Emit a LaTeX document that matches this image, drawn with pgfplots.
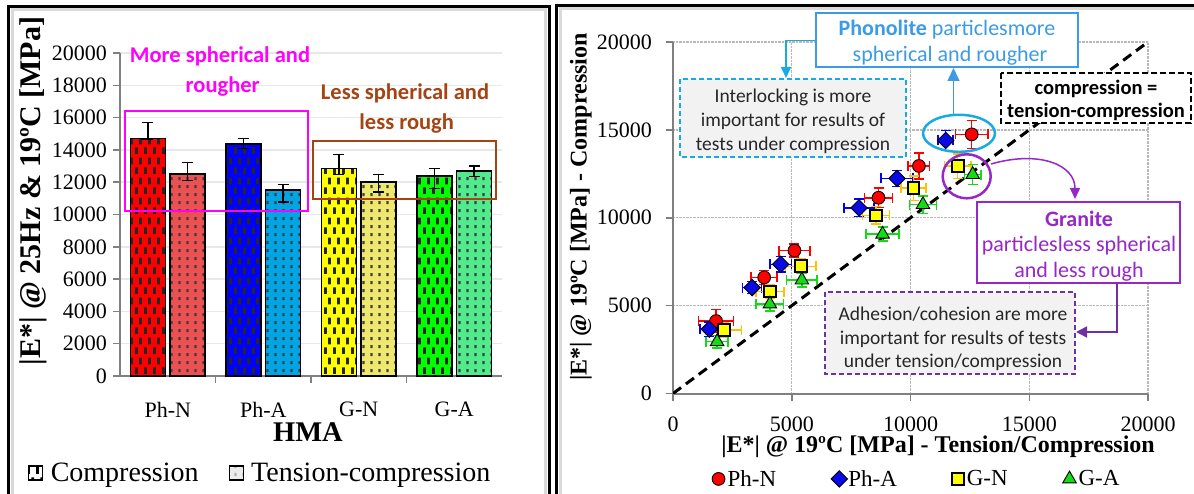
\documentclass[border=0pt]{standalone}
\usepackage{pgfplots}
\pgfplotsset{compat=1.18}
\usepackage{fontspec}
\setmainfont{Liberation Serif}
\newfontfamily\calib{Carlito}
\usetikzlibrary{patterns,arrows.meta}

\definecolor{phn}{RGB}{255,0,0}
\definecolor{phnt}{RGB}{236,80,80}
\definecolor{pha}{RGB}{0,0,255}
\definecolor{phat}{RGB}{0,165,230}
\definecolor{gn}{RGB}{255,255,0}
\definecolor{gnt}{RGB}{238,232,110}
\definecolor{ga}{RGB}{0,255,0}
\definecolor{gat}{RGB}{80,235,140}
\definecolor{brownT}{RGB}{165,68,18}
\definecolor{magT}{RGB}{255,0,255}
\definecolor{phblue}{RGB}{60,155,230}
\definecolor{cyanA}{RGB}{25,170,225}
\definecolor{purp}{RGB}{150,40,200}
\definecolor{purpD}{RGB}{112,48,160}
\definecolor{boxgray}{RGB}{242,242,242}
\definecolor{errorange}{RGB}{255,192,0}
\definecolor{mkgreen}{RGB}{20,220,20}
\definecolor{mkblue}{RGB}{10,10,230}

\pgfdeclarepatternformonly{cdash}{\pgfpointorigin}{\pgfpoint{9bp}{20bp}}{\pgfpoint{9bp}{20bp}}{%
  \pgfpathrectangle{\pgfpoint{0bp}{0bp}}{\pgfpoint{3bp}{7bp}}%
  \pgfpathrectangle{\pgfpoint{4.5bp}{10bp}}{\pgfpoint{3bp}{7bp}}%
  \pgfusepath{fill}}
\pgfdeclarepatternformonly{tdash}{\pgfpointorigin}{\pgfpoint{8bp}{8bp}}{\pgfpoint{8bp}{8bp}}{%
  \pgfpathrectangle{\pgfpoint{2.5bp}{2bp}}{\pgfpoint{2.5bp}{3.5bp}}%
  \pgfusepath{fill}}

\newcommand{\mybar}[7]{%
\addplot[forget plot, ybar, bar width=0.366, bar shift=0, fill=#1, draw=black, line width=1.6bp,
  postaction={pattern=#2, pattern color=#7},
  error bars/.cd, y dir=both, y explicit,
  error bar style={line width=1.5bp, black},
  error mark options={rotate=90, mark size=5.5bp, line width=1.5bp, black}]
  coordinates {(#3,#4) += (0,#5) -= (0,#6)};}

\tikzset{
  ann/.style={anchor=base, font=\calib\fontsize{19.5bp}{22bp}\selectfont},
  annB/.style={anchor=base, font=\calib\fontsize{22bp}{25bp}\selectfont},
}

\begin{document}
\begin{tikzpicture}
\begin{scope}[x=1bp,y=1bp]
\useasboundingbox (0,0) rectangle (1194,-494);
\fill[white] (0,0) rectangle (1194,-494);
\draw[gray!30, line width=3bp] (12,-10) rectangle (545,-497);
\draw[black, line width=3bp] (8.5,-6.5) rectangle (549,-500);
\draw[gray!30, line width=3bp] (560,-9) rectangle (1197,-497);
\draw[black, line width=3bp] (556.5,-5.5) rectangle (1200,-500);
\end{scope}

% ---------------- left: bar chart ----------------
\begin{axis}[
  at={(120bp,-376bp)}, anchor=south west, scale only axis,
  width=382bp, height=323bp,
  xmin=-0.5, xmax=3.5, ymin=0, ymax=20000,
  scaled ticks=false,
  axis x line*=bottom, axis y line*=left,
  axis line style={draw=gray, line width=2bp, -},
  xtick={0,1,2,3}, xticklabels={Ph-N,Ph-A,G-N,G-A},
  x tick style={draw=none},
  extra x ticks={0.5,1.5,2.5}, extra x tick labels={},
  extra x tick style={x tick style={draw=gray, line width=1.5bp}},
  ytick={0,2000,...,20000},
  yticklabels={0,2000,4000,6000,8000,10000,12000,14000,16000,18000,20000},
  y tick style={draw=gray, line width=1.5bp},
  major tick length=7bp, tick align=outside,
  ymajorgrids, y grid style={gray!18, line width=1.5bp},
  yticklabel style={anchor=east, inner sep=0pt, xshift=-6bp},
  xticklabel style={anchor=north, inner sep=0pt, yshift=-19bp},
  tick label style={font=\rmfamily\fontsize{22bp}{24bp}\selectfont},
  xlabel={\bfseries HMA},
  ylabel={\bfseries |E*| @ 25Hz \& 19ºC [MPa]},
  every axis x label/.style={at={(axis description cs:0.492,-0.173)}, anchor=center, font=\fontsize{28.5bp}{30bp}\selectfont},
  every axis y label/.style={at={(axis description cs:-0.2277,0.5728)}, rotate=90, anchor=center, font=\fontsize{30bp}{32bp}\selectfont},
  legend style={at={(axis description cs:-0.241,-0.300)}, anchor=west, draw=none, fill=none,
    legend columns=2, font=\fontsize{28bp}{30bp}\selectfont, inner sep=0pt,
    nodes={inner sep=0pt},
    /tikz/every even column/.append style={column sep=30bp}},
]
\mybar{phn}{cdash}{-0.208}{14700}{1000}{60}{black!85}
\mybar{phnt}{tdash}{0.208}{12490}{740}{370}{black!75}
\mybar{pha}{cdash}{0.792}{14350}{350}{250}{black!85}
\mybar{phat}{tdash}{1.208}{11500}{370}{720}{black!75}
\mybar{gn}{cdash}{1.792}{12860}{870}{370}{black!85}
\mybar{gnt}{tdash}{2.208}{12000}{490}{620}{black!75}
\mybar{ga}{cdash}{2.792}{12380}{480}{760}{black!85}
\mybar{gat}{tdash}{3.208}{12710}{290}{370}{black!75}
\addlegendimage{legend image code/.code={\draw[black, line width=1.3bp, fill=white, postaction={pattern=cdash, pattern color=black}] (0bp,-7bp) rectangle (14bp,7bp); \path[draw=none, fill=none] (0bp,0bp) -- (22bp,0bp);}}
\addlegendentry{Compression}
\addlegendimage{legend image code/.code={\draw[black, line width=1.3bp, fill=gray!15, postaction={pattern=tdash, pattern color=gray!60}] (0bp,-7bp) rectangle (14bp,7bp); \path[draw=none, fill=none] (0bp,0bp) -- (22bp,0bp);}}
\addlegendentry{Tension-compression}
\end{axis}

% ---------------- right: scatter ----------------
\begin{axis}[
  at={(673bp,-393.5bp)}, anchor=south west, scale only axis,
  width=475bp, height=351.5bp,
  xmin=0, xmax=20000, ymin=0, ymax=20000,
  scaled ticks=false,
  axis x line*=bottom, axis y line*=left,
  axis line style={draw=gray, line width=2bp, -},
  xtick={0,5000,...,20000}, ytick={0,5000,...,20000},
  xticklabels={0,5000,10000,15000,20000},
  yticklabels={0,5000,10000,15000,20000},
  tick style={draw=gray, line width=1.5bp},
  major tick length=7bp, tick align=outside,
  grid=major, grid style={densely dotted, gray!55, line width=1.3bp},
  yticklabel style={anchor=east, inner sep=0pt, xshift=-14bp},
  xticklabel style={anchor=north, inner sep=0pt, yshift=-16bp},
  tick label style={font=\rmfamily\fontsize{22bp}{24bp}\selectfont},
  xlabel={\bfseries |E*| @ 19ºC [MPa] - Tension/Compression},
  ylabel={\bfseries |E*| @ 19ºC [MPa] - Compression},
  every axis x label/.style={at={(axis description cs:0.558,-0.152)}, anchor=center, font=\fontsize{24bp}{26bp}\selectfont},
  every axis y label/.style={at={(axis description cs:-0.1937,0.5306)}, rotate=90, anchor=center, font=\fontsize{24bp}{26bp}\selectfont},
  legend image code/.code={\draw[#1] plot coordinates {(6bp,0bp)}; \path[draw=none, fill=none] (0bp,0bp) -- (15bp,0bp);},
  legend style={at={(axis description cs:0.082,-0.243)}, anchor=west, draw=none, fill=none,
    legend columns=4, font=\fontsize{23bp}{25bp}\selectfont, inner sep=0pt,
    nodes={inner sep=0pt},
    /tikz/every even column/.append style={column sep=55bp}},
]
\addplot[forget plot, black, line width=3bp, dash pattern=on 10bp off 6bp] coordinates {(0,0) (20000,20000)};

\addplot[only marks, mark=*, mark size=6.4bp, mark options={fill=phn, draw=black, line width=0.9bp},
  error bars/.cd, x dir=both, x explicit, y dir=both, y explicit,
  error bar style={phn, line width=1.5bp},
  error mark options={rotate=90, phn, mark size=5bp, line width=1.5bp}]
coordinates {
(12577,14744) +- (680,800)
(10354,12948) +- (450,750)
(8654,11138) +- (590,550)
(5113,8134) +- (660,370)
(3839,6604) +- (545,400)
(1813,4123) +- (740,650)
};
\addlegendentry{Ph-N}

\addplot[only marks, mark=square*, mark size=5.8bp, mark options={rotate=45, fill=mkblue, draw=black, line width=0.9bp},
  error bars/.cd, x dir=both, x explicit, y dir=both, y explicit,
  error bar style={pha, line width=1.5bp},
  error mark options={rotate=90, pha, mark size=5bp, line width=1.5bp}]
coordinates {
(11482,14400) +- (315,570)
(9433,12239) +- (670,450)
(7833,10560) +- (640,500)
(4533,7351) +- (450,450)
(3329,6026) +- (400,350)
(1530,3657) +- (400,400)
};
\addlegendentry{Ph-A}

\addplot[only marks, mark=square*, mark size=5.8bp, mark options={fill=gn, draw=black, line width=2bp},
  error bars/.cd, x dir=both, x explicit, y dir=both, y explicit,
  error bar style={errorange, line width=1.5bp},
  error mark options={rotate=90, errorange, mark size=5bp, line width=1.5bp}]
coordinates {
(11987,12933) +- (560,700)
(10127,11679) +- (530,700)
(8555,10131) +- (570,500)
(5382,7239) +- (640,400)
(4079,5802) +- (590,400)
(2139,3601) +- (750,400)
};
\addlegendentry{G-N}

\addplot[only marks, mark=triangle*, mark size=7.8bp, mark options={fill=mkgreen, draw=black, line width=0.9bp},
  error bars/.cd, x dir=both, x explicit, y dir=both, y explicit,
  error bar style={mkgreen, line width=1.5bp},
  error mark options={rotate=90, mkgreen, mark size=5bp, line width=1.5bp}]
coordinates {
(12619,12457) +- (350,570)
(10524,10746) +- (570,500)
(8824,9067) +- (700,400)
(5425,6455) +- (640,400)
(4079,5093) +- (575,400)
(1855,2948) +- (460,350)
};
\addlegendentry{G-A}
\end{axis}

% ---------------- annotations ----------------
\begin{scope}[x=1bp,y=1bp]
% left panel
\draw[magT, line width=2bp] (125,-110.7) rectangle (308,-210.7);
\draw[brownT, line width=2bp] (313,-140.7) rectangle (496,-199);
\node[annB, text=magT, font=\calib\bfseries\fontsize{22.5bp}{25bp}\selectfont] at (220,-63) {More spherical and};
\node[annB, text=magT, font=\calib\bfseries\fontsize{22.5bp}{25bp}\selectfont] at (222.7,-93) {rougher};
\node[annB, text=brownT, font=\calib\bfseries\fontsize{22.5bp}{25bp}\selectfont] at (405,-100) {Less spherical and};
\node[annB, text=brownT, font=\calib\bfseries\fontsize{22.5bp}{25bp}\selectfont] at (406.7,-130) {less rough};

% right panel
\draw[phblue, line width=2bp, fill=white] (815.5,-13) rectangle (1078,-67);
\node[annB, text=phblue] at (947,-36) {\bfseries Phonolite\mdseries{} particlesmore};
\node[annB, text=phblue] at (950,-62) {spherical and rougher};
\draw[cyanA, line width=1.5bp, -{Triangle[length=11bp,width=10bp]}] (815.5,-40.7) -- (786,-40.7) -- (786,-78);
\draw[phblue, line width=1.5bp, -{Triangle[length=13bp,width=12bp]}] (953.5,-115) -- (953.5,-68);

\draw[cyanA, line width=2bp, dash pattern=on 5bp off 3bp, fill=boxgray] (680,-79) rectangle (906,-157);
\node[ann, text=black!85] at (793,-102.7) {Interlocking is more};
\node[ann, text=black!85] at (793,-126.7) {important for results of};
\node[ann, text=black!85] at (793,-150.7) {tests under compression};

\draw[cyanA, line width=2.5bp] (959,-133.3) ellipse [x radius=36, y radius=18.5];
\draw[purp, line width=2.5bp] (966.7,-176.3) ellipse [x radius=24, y radius=22];

\draw[purp, line width=1.5bp, -{Triangle[length=11bp,width=10bp]}] (991,-164) .. controls (1040,-150) and (1075,-165) .. (1075,-199);
\draw[purp, line width=2bp, fill=white] (977,-202) rectangle (1180,-283);
\node[annB, text=purp] at (1079,-226.7) {\bfseries Granite};
\node[annB, text=purp] at (1079,-251.7) {particlesless spherical};
\node[annB, text=purp] at (1079,-277.7) {and less rough};
\draw[purpD, line width=1.5bp, -{Triangle[length=11bp,width=11bp]}] (1117,-283) -- (1117,-332) -- (1076,-332);

\draw[purpD, line width=2bp, dash pattern=on 5bp off 3bp, fill=boxgray] (825,-292) rectangle (1075,-374);
\node[ann, text=black!85] at (953,-320.7) {Adhesion/cohesion are more};
\node[ann, text=black!85] at (953,-344.3) {important for results of tests};
\node[ann, text=black!85] at (953,-367.7) {under tension/compression};

\draw[black, line width=2.5bp, dash pattern=on 6bp off 3bp, fill=white] (1001,-73) rectangle (1191,-123);
\node[annB, text=black, font=\calib\bfseries\fontsize{20.5bp}{23bp}\selectfont] at (1096,-94.3) {compression =};
\node[annB, text=black, font=\calib\bfseries\fontsize{20.5bp}{23bp}\selectfont] at (1096,-118) {tension-compression};
\end{scope}
\end{tikzpicture}
\end{document}
